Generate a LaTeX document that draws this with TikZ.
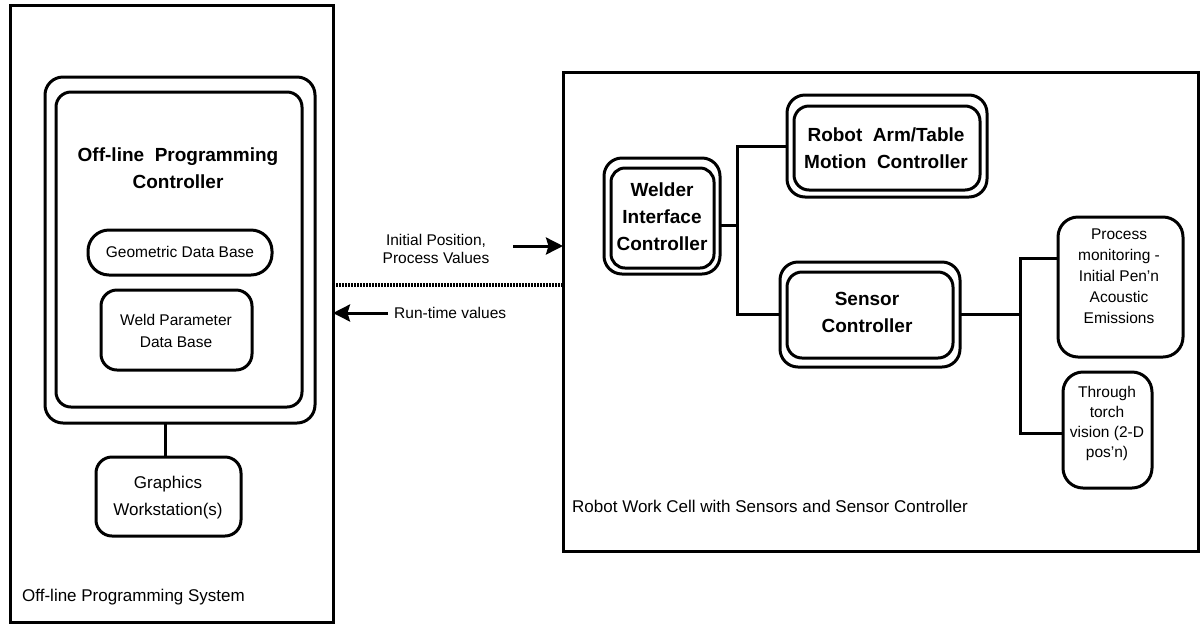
\documentclass[tikz,border=0pt]{standalone}
\usepackage{fontspec}
\setmainfont{Liberation Sans}
\usetikzlibrary{arrows.meta}
\tikzset{
  box/.style={draw, line width=3pt, rounded corners=#1, inner sep=0pt, outer sep=0pt},
  box/.default=16pt,
  frame/.style={draw, line width=3pt, inner sep=0pt, outer sep=0pt},
  wire/.style={line width=3pt},
  lbl/.style={inner sep=0pt, align=center, font=\fontsize{15.5}{21}\selectfont},
  biglbl/.style={inner sep=0pt, align=center, font=\fontsize{17}{27}\selectfont},
  ttl/.style={inner sep=0pt, align=center, font=\bfseries\fontsize{19}{27}\selectfont},
  arr/.style={line width=3pt, -{Stealth[length=17pt,width=17pt,inset=2.5pt]}},
  dotline/.style={line width=4pt, dash pattern=on 1.6pt off 1.4pt}
}
\begin{document}
\begin{tikzpicture}[x=1pt,y=-1pt]
\useasboundingbox (0,0) rectangle (1201,625);
% ---- left system ----
\node[frame, minimum width=323pt, minimum height=617pt] (sys) at (171.5,313.5) {};
\node[box=18pt, minimum width=270pt, minimum height=346pt] (opcO) at (180,250) {};
\node[box=15pt, minimum width=246pt, minimum height=315pt] (opcI) at (179,249.5) {};
\node[ttl] (opct) at (178,168) {Off-line\ \ Programming\\Controller};
\node[box=21pt, minimum width=184pt, minimum height=45pt] (geo) at (180,252.5) {};
\node[lbl] (geot) at (180,252) {Geometric Data Base};
\node[box=16pt, minimum width=151pt, minimum height=80pt] (weld) at (176.5,330) {};
\node[lbl, font=\fontsize{15.5}{22}\selectfont] (weldt) at (176,331) {Weld Parameter\\Data Base};
\node[box=16pt, minimum width=145pt, minimum height=79pt] (gfx) at (168.5,496.5) {};
\node[biglbl] (gfxt) at (168,498) {Graphics\\Workstation(s)};
\node[biglbl, anchor=west] (syst) at (22,597) {Off-line Programming System};
\draw[wire] (gfx.north -| 165,0) -- (opcO.south -| 165,0);
% ---- middle ----
\node[lbl, font=\fontsize{15.5}{18}\selectfont] (initt) at (436,249) {Initial Position,\\Process Values};
\node[lbl, anchor=west] (rtt) at (394,313) {Run-time values};
% ---- right cell ----
\node[frame, minimum width=635pt, minimum height=479pt] (cell) at (880.5,311.5) {};
\node[biglbl, anchor=west] (cellt) at (572,506) {Robot Work Cell with Sensors and Sensor Controller};
\node[box=18pt, minimum width=116pt, minimum height=116pt] (welO) at (662,216) {};
\node[box=14pt, minimum width=103pt, minimum height=100pt] (welI) at (662.5,218) {};
\node[ttl] (welt) at (662,217) {Welder\\Interface\\Controller};
\node[box=18pt, minimum width=200pt, minimum height=102pt] (robO) at (887,146) {};
\node[box=15pt, minimum width=186pt, minimum height=84pt] (robI) at (887,148) {};
\node[ttl] (robt) at (886,148) {Robot\ \ Arm/Table\\Motion\ \ Controller};
\node[box=18pt, minimum width=180pt, minimum height=105pt] (senO) at (870,314.5) {};
\node[box=15pt, minimum width=166pt, minimum height=86pt] (senI) at (870,315) {};
\node[ttl] (sent) at (867,312) {Sensor\\Controller};
\node[box=20pt, minimum width=125pt, minimum height=140pt] (proc) at (1120.5,287) {};
\node[lbl] (proct) at (1119,276) {Process\\monitoring -\\Initial Pen'n\\Acoustic\\Emissions};
\node[box=20pt, minimum width=89pt, minimum height=116pt] (thru) at (1107.5,430) {};
\node[lbl, font=\fontsize{15.5}{20}\selectfont] (thrut) at (1107,423) {Through\\torch\\vision (2-D\\pos'n)};
% ---- connectors ----
\coordinate (j1) at (737,225);
\draw[wire] (welO.east |- j1) -- (j1);
\draw[wire] (robO.west) -| (j1) |- (senO.west);
\coordinate (b1) at (1020,258);
\coordinate (b2) at (1020,433);
\draw[wire] (senO.east) -- (senO.east -| b1);
\draw[wire] (b1 -| proc.west) -- (b1) -- (b2) -- (b2 -| thru.west);
% ---- communication ----
\coordinate (a1) at (513,246);
\draw[arr] (a1) -- (a1 -| cell.west);
\coordinate (a2) at (388,313);
\draw[arr] (a2) -- (a2 -| sys.east);
\coordinate (d) at (450,285);
\draw[dotline] (d -| sys.east) -- (d -| cell.west);
\end{tikzpicture}
\end{document}
